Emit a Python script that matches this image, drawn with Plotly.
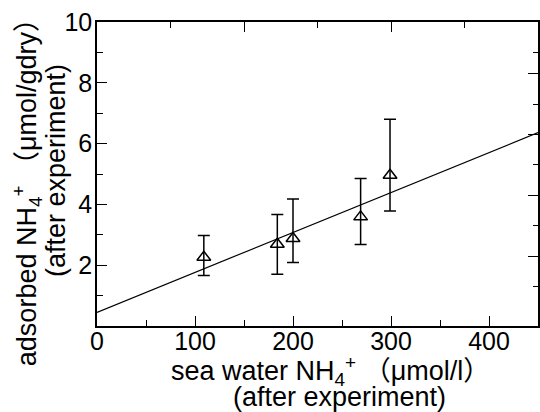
import plotly.graph_objects as go

# data
sea_nh4 = [109, 184, 200, 269, 299]
ads_nh4 = [2.26, 2.69, 2.88, 3.59, 4.96]
err_plus = [0.72, 0.98, 1.30, 1.26, 1.84]
err_minus = [0.60, 0.99, 0.79, 0.91, 1.18]

fit_x = [0, 450]
fit_y = [0.45, 6.36]

x_ticks = [0, 100, 200, 300, 400]
y_ticks = [2, 4, 6, 8, 10]
top_major = [150, 300]
top_minor = [75, 225, 375]
right_major = [2.3, 4.3, 6.3, 8.3]
right_minor = [1.3, 3.3, 5.3, 7.3, 9.0]

FONT = "Liberation Sans, Arial, Noto Sans CJK JP, sans-serif"

fig = go.Figure()
fig.add_trace(go.Scatter(x=fit_x, y=fit_y, mode="lines",
                         line=dict(color="black", width=1.2),
                         showlegend=False, hoverinfo="skip"))
fig.add_trace(go.Scatter(
    x=sea_nh4, y=ads_nh4, mode="markers",
    marker=dict(symbol="triangle-up-open", size=12, color="black",
                line=dict(width=1.5, color="black")),
    error_y=dict(type="data", symmetric=False, array=err_plus,
                 arrayminus=err_minus, color="black", thickness=1.5, width=6),
    showlegend=False))
# invisible trace to activate secondary axes
fig.add_trace(go.Scatter(x=[0], y=[0], xaxis="x2", yaxis="y2", mode="markers",
                         marker=dict(opacity=0), showlegend=False, hoverinfo="skip"))

axis_common = dict(showgrid=False, zeroline=False, showline=True,
                   linecolor="black", linewidth=1.5, ticks="inside",
                   tickcolor="black", tickwidth=1.2, ticklen=10,
                   automargin=False)

fig.update_layout(
    width=540, height=412, autosize=False,
    margin=dict(l=97, r=2, t=22, b=86),
    paper_bgcolor="white", plot_bgcolor="white",
    font=dict(family=FONT, color="black", size=25),
    xaxis=dict(range=[0, 450], tickmode="array", tickvals=x_ticks,
               ticktext=[str(v) for v in x_ticks], ticklabelstandoff=-8,
               minor=dict(ticks="inside", dtick=50, tick0=0, ticklen=6,
                          tickcolor="black", tickwidth=1.2),
               tickfont=dict(size=25, family=FONT), **axis_common),
    yaxis=dict(range=[0, 10], tickmode="array", tickvals=[0] + y_ticks,
               ticktext=[""] + [str(v) for v in y_ticks], ticklabelstandoff=-2,
               minor=dict(ticks="inside", dtick=1, tick0=0, ticklen=6,
                          tickcolor="black", tickwidth=1.2),
               tickfont=dict(size=25, family=FONT), **axis_common),
    xaxis2=dict(range=[0, 450], overlaying="x", side="top", anchor="y",
                tickmode="array", tickvals=top_major, showticklabels=False,
                minor=dict(ticks="inside", tickvals=top_minor, ticklen=6,
                           tickcolor="black", tickwidth=1.2),
                **axis_common),
    yaxis2=dict(range=[0, 10], overlaying="y", side="right", anchor="x",
                tickmode="array", tickvals=right_major, showticklabels=False,
                minor=dict(ticks="inside", tickvals=right_minor, ticklen=5,
                           tickcolor="black", tickwidth=1.2),
                **axis_common),
)

title_font = dict(family=FONT, size=27, color="black")
fig.add_annotation(text="sea water NH<sub>4</sub><sup>+</sup> （μmol/l）",
                   xref="paper", yref="paper", x=0.529, y=0, yshift=-45,
                   xanchor="center", yanchor="middle", showarrow=False,
                   font=title_font)
fig.add_annotation(text="(after experiment)",
                   xref="paper", yref="paper", x=0.55, y=0, yshift=-71,
                   xanchor="center", yanchor="middle", showarrow=False,
                   font=title_font)
fig.add_annotation(text="adsorbed NH<sub>4</sub><sup>+</sup> （μmol/gdry）",
                   xref="paper", yref="paper", x=0, y=0.46, xshift=-70,
                   xanchor="center", yanchor="middle", textangle=-90,
                   showarrow=False, font=title_font)
fig.add_annotation(text="(after experiment)",
                   xref="paper", yref="paper", x=0, y=0.51, xshift=-41,
                   xanchor="center", yanchor="middle", textangle=-90,
                   showarrow=False, font=title_font)

fig.write_html("out.html", config={"responsive": False, "displayModeBar": False},
               post_script="document.body.style.margin='0';document.body.style.overflow='hidden';")
